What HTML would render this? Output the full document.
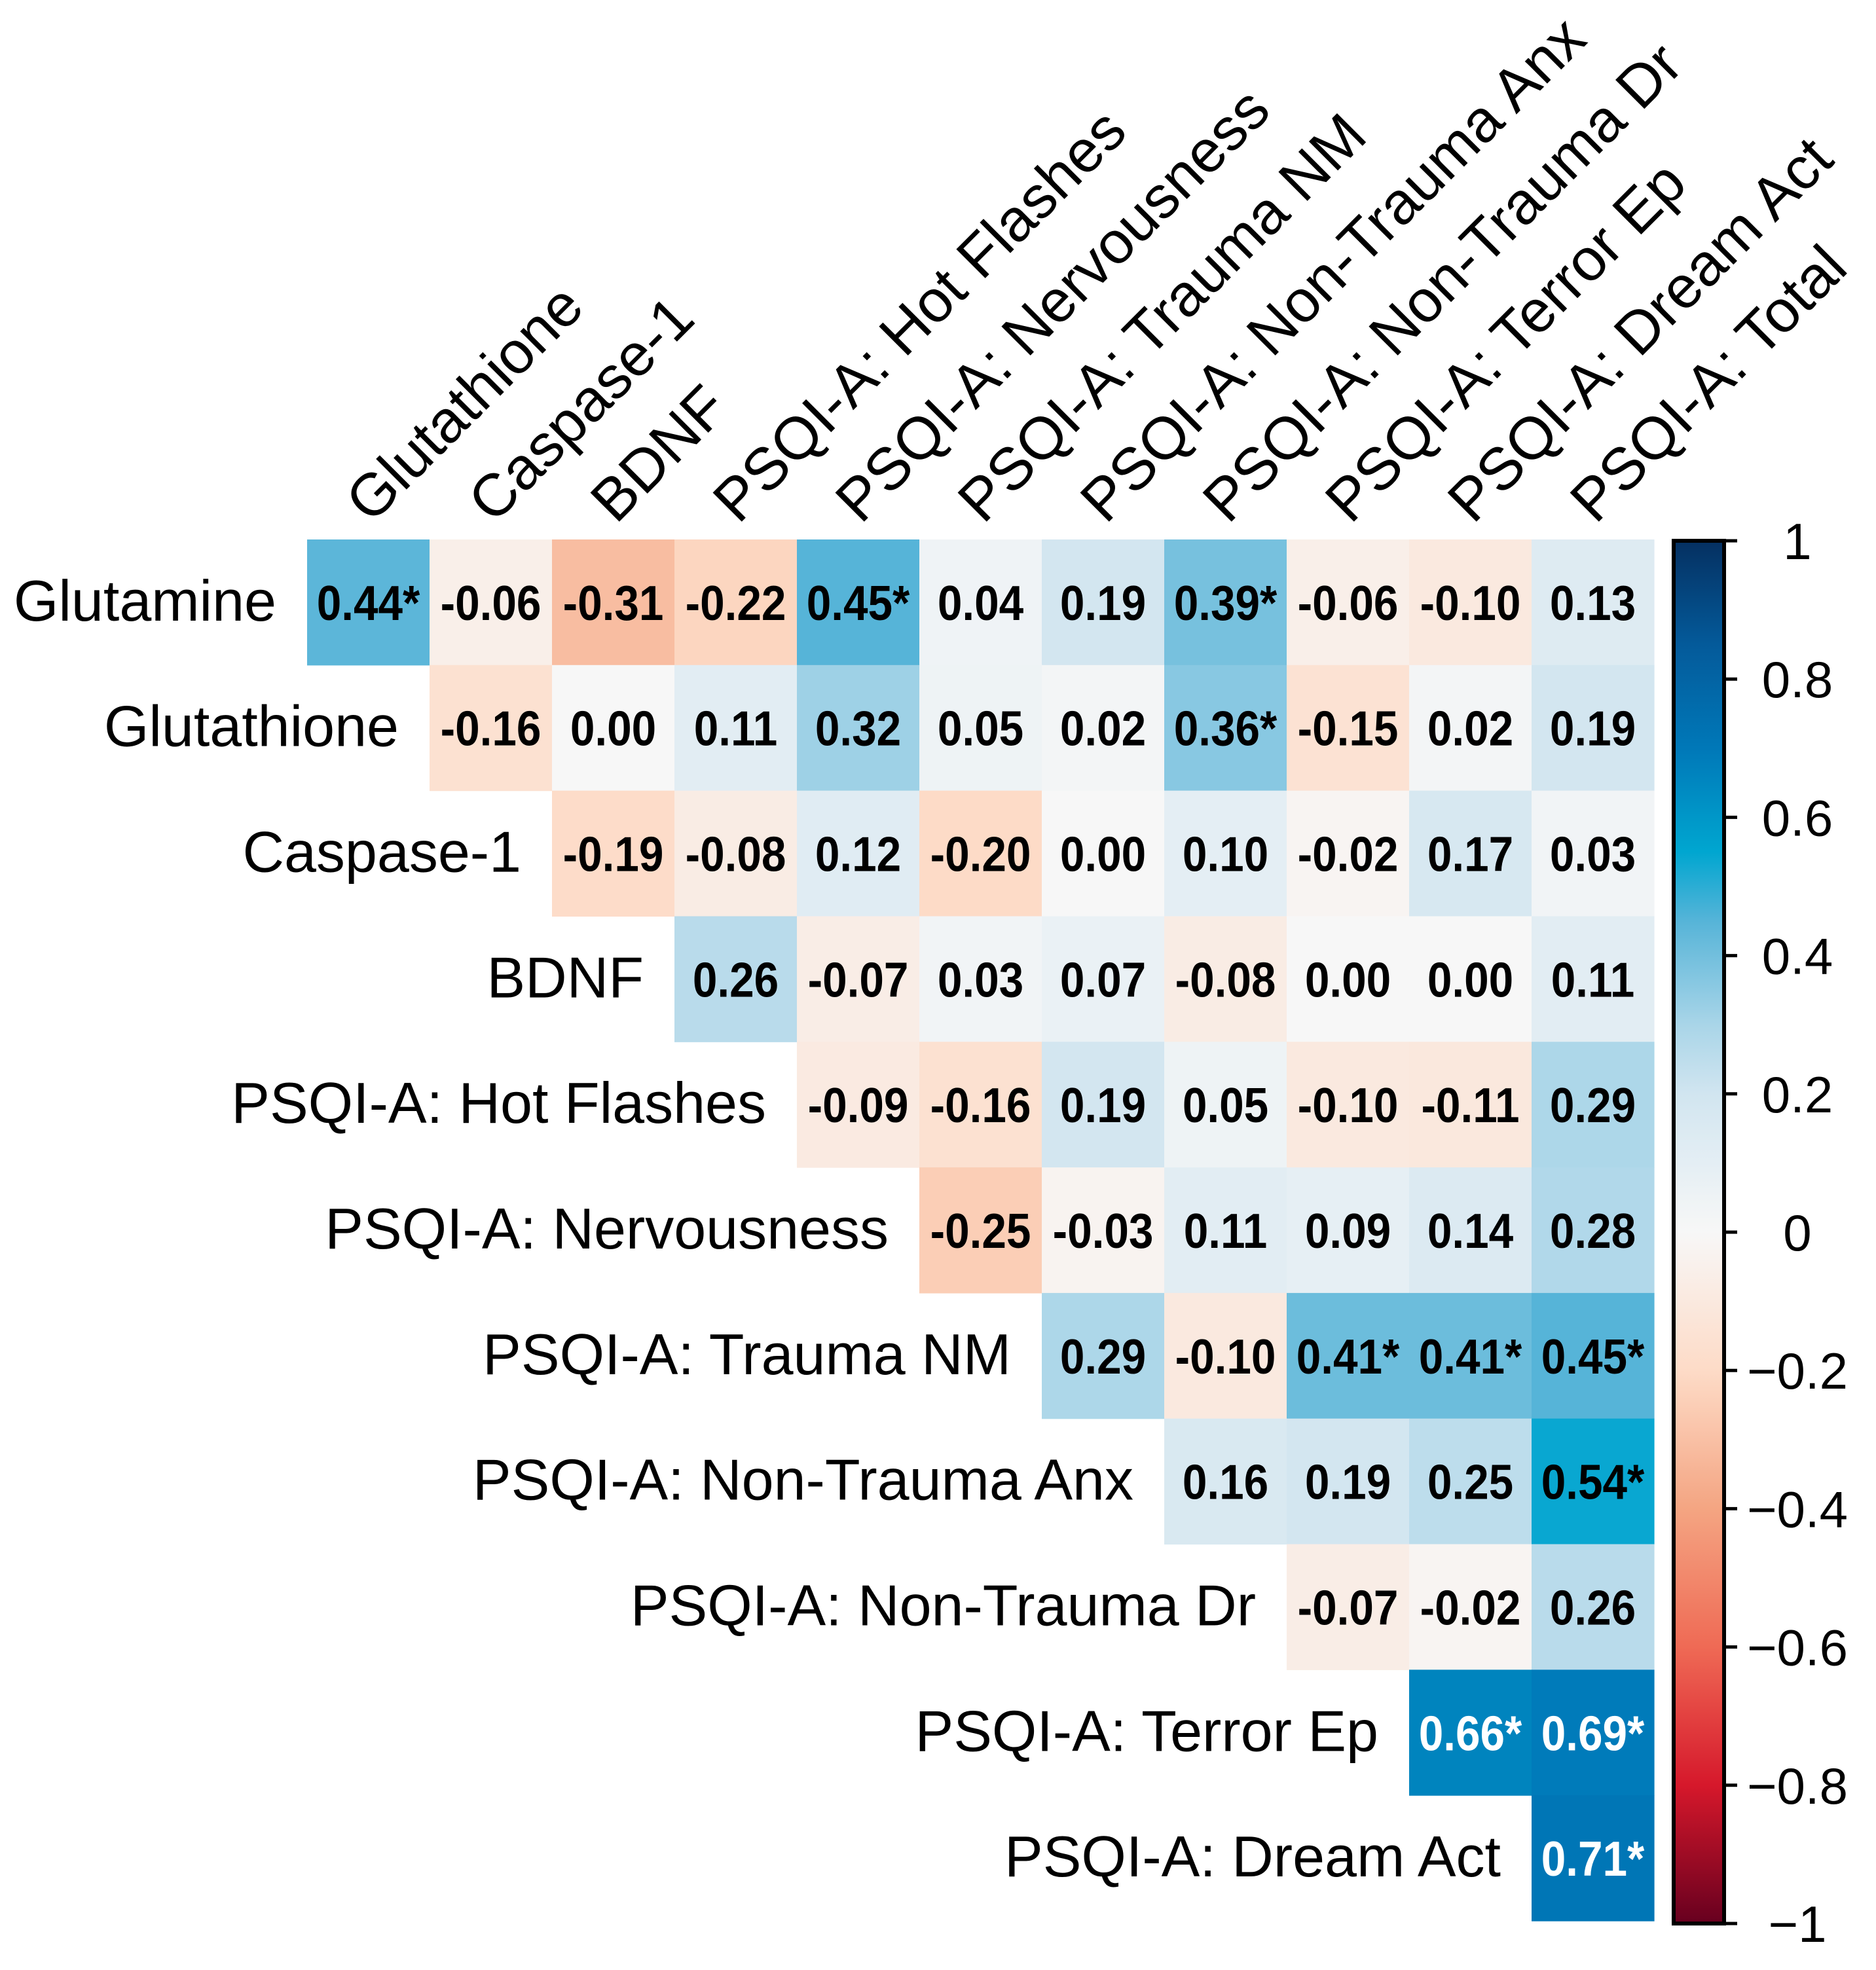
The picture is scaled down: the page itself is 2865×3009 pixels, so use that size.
<!DOCTYPE html>
<html><head><meta charset="utf-8"><style>html,body{margin:0;padding:0;background:#fff}svg{display:block}</style></head>
<body>
<svg id="chart" xmlns="http://www.w3.org/2000/svg" width="2865" height="3009" viewBox="0 0 2865 3009">
<defs><linearGradient id="cbgrad" x1="0" y1="0" x2="0" y2="1"></linearGradient></defs>
<rect width="2865" height="3009" fill="#fff"/>
<g id="cells"></g>
<g id="rowlabels"></g>
<g id="collabels"></g>
<g id="colorbar"></g>
</svg>
<script>
const rowNames = ["Glutamine","Glutathione","Caspase-1","BDNF","PSQI-A: Hot Flashes","PSQI-A: Nervousness","PSQI-A: Trauma NM","PSQI-A: Non-Trauma Anx","PSQI-A: Non-Trauma Dr","PSQI-A: Terror Ep","PSQI-A: Dream Act"];
const colNames = ["Glutathione","Caspase-1","BDNF","PSQI-A: Hot Flashes","PSQI-A: Nervousness","PSQI-A: Trauma NM","PSQI-A: Non-Trauma Anx","PSQI-A: Non-Trauma Dr","PSQI-A: Terror Ep","PSQI-A: Dream Act","PSQI-A: Total"];
const corrValues = [
 [0.44,-0.06,-0.31,-0.22,0.45,0.04,0.19,0.39,-0.06,-0.10,0.13],
 [-0.16,0.00,0.11,0.32,0.05,0.02,0.36,-0.15,0.02,0.19],
 [-0.19,-0.08,0.12,-0.20,0.00,0.10,-0.02,0.17,0.03],
 [0.26,-0.07,0.03,0.07,-0.08,0.00,0.00,0.11],
 [-0.09,-0.16,0.19,0.05,-0.10,-0.11,0.29],
 [-0.25,-0.03,0.11,0.09,0.14,0.28],
 [0.29,-0.10,0.41,0.41,0.45],
 [0.16,0.19,0.25,0.54],
 [-0.07,-0.02,0.26],
 [0.66,0.69],
 [0.71]
];
const significant = [
 [1,0,0,0,1,0,0,1,0,0,0],
 [0,0,0,0,0,0,1,0,0,0],
 [0,0,0,0,0,0,0,0,0],
 [0,0,0,0,0,0,0,0],
 [0,0,0,0,0,0,0],
 [0,0,0,0,0,0],
 [0,0,1,1,1],
 [0,0,0,1],
 [0,0,0],
 [1,1],
 [1]
];
const cbTicks = [1,0.8,0.6,0.4,0.2,0,-0.2,-0.4,-0.6,-0.8,-1];
const cbTickLabels = ["1","0.8","0.6","0.4","0.2","0","\u22120.2","\u22120.4","\u22120.6","\u22120.8","\u22121"];

const NS="http://www.w3.org/2000/svg";
const X0=469, X1=2526, Y0=824, Y1=2934;
const cw=(X1-X0)/colNames.length, rh=(Y1-Y0)/rowNames.length;
const xPos=c=>X0+c*cw, yPos=r=>Y0+r*rh;
const stops=[[-1,[103,0,31]],[-0.8,[214,24,43]],[-0.6,[239,106,85]],[-0.4,[244,165,130]],[-0.2,[253,219,199]],[0,[247,247,247]],[0.2,[209,229,240]],[0.3,[169,213,232]],[0.45,[86,180,216]],[0.55,[0,166,208]],[0.7,[0,120,184]],[0.85,[4,90,154]],[1,[5,48,97]]];
function color(v){
 for(let i=0;i<stops.length-1;i++){const a=stops[i],b=stops[i+1];
  if(v<=b[0]){const t=(v-a[0])/(b[0]-a[0]);const c=a[1].map((x,k)=>Math.round(x+(b[1][k]-x)*t));return `rgb(${c.join(',')})`;}}
 return 'rgb(5,48,97)';
}
function mk(tag,attrs,parent){const e=document.createElementNS(NS,tag);for(const k in attrs)e.setAttribute(k,attrs[k]);parent.appendChild(e);return e;}
const gc=document.getElementById('cells');
corrValues.forEach((row,r)=>{row.forEach((v,j)=>{const c=r+j;
 const rect=mk('rect',{x:xPos(c),y:yPos(r),width:cw+0.6,height:rh+0.6,fill:color(v)},gc);
 
 
 const cx=xPos(c)+cw/2, cy=yPos(r)+rh/2+27;
 const t=mk('text',{x:0,y:0,transform:`translate(${cx} ${cy}) scale(0.9 1)`,'text-anchor':'middle','font-family':'Liberation Sans, sans-serif','font-weight':'bold','font-size':75,fill:Math.abs(v)>0.6?'#fff':'#000'},gc);
 t.textContent=(v<0?'-':'')+Math.abs(v).toFixed(2)+(significant[r][j]?'*':'');
 
 
});});
const gr=document.getElementById('rowlabels');
rowNames.forEach((n,r)=>{const t=mk('text',{x:xPos(r)-47,y:yPos(r)+rh/2+28,'text-anchor':'end','font-family':'Liberation Sans, sans-serif','font-size':88,fill:'#000'},gr);t.textContent=n;
 
 });
const gcl=document.getElementById('collabels');
colNames.forEach((n,c)=>{const x=xPos(c)+cw/2+4,y=Y0-22;const t=mk('text',{x:x,y:y,transform:`rotate(-45 ${x} ${y})`,'font-family':'Liberation Sans, sans-serif','font-size':91,fill:'#000'},gcl);t.textContent=n;
 
 });
const grad=document.getElementById('cbgrad');
for(let i=0;i<=40;i++){const v=1-i/20;mk('stop',{offset:(i/40),'stop-color':color(v)},grad);}
const gcb=document.getElementById('colorbar');
const CBX0=2556,CBX1=2633,CBY0=826,CBY1=2938;
const cbY=v=>CBY0+(1-v)/2*(CBY1-CBY0);
const bar=mk('rect',{x:CBX0,y:CBY0,width:CBX1-CBX0,height:CBY1-CBY0,fill:'url(#cbgrad)',stroke:'#000','stroke-width':6},gcb);


cbTicks.forEach((v,i)=>{const y=cbY(v);
 const l=mk('line',{x1:CBX1,x2:CBX1+20,y1:y,y2:y,stroke:'#000','stroke-width':5},gcb);
 
 
 const t=mk('text',{x:2745,y:y+28,'text-anchor':'middle','font-family':'Liberation Sans, sans-serif','font-size':78,fill:'#000'},gcb);t.textContent=cbTickLabels[i];
 
 });
</script>
</body></html>
